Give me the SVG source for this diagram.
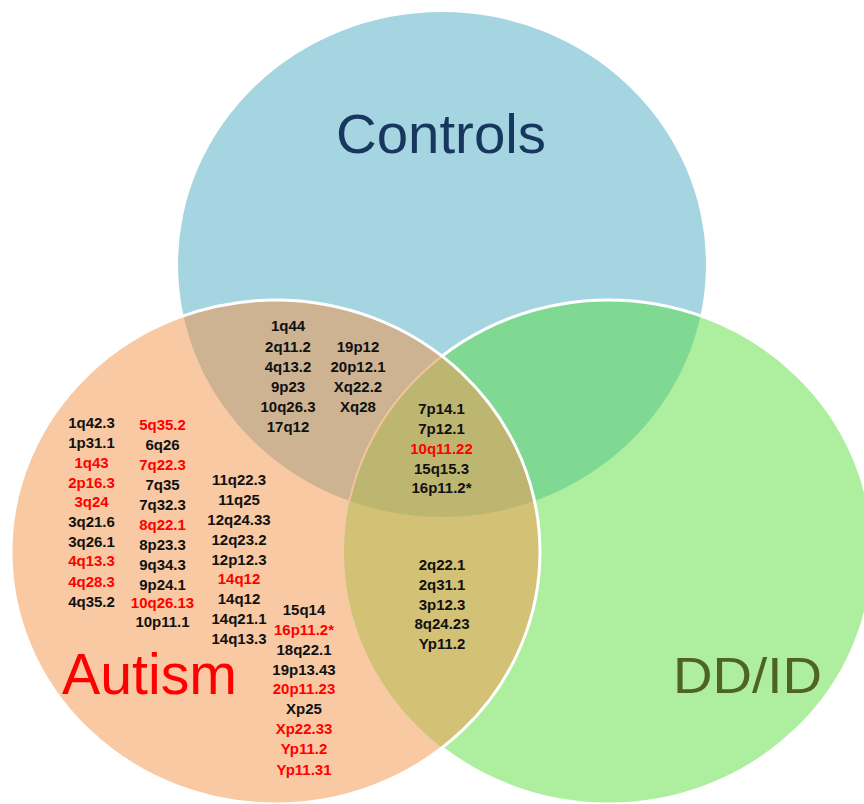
<svg xmlns="http://www.w3.org/2000/svg" width="864" height="804" viewBox="0 0 864 804">
<style>
.t{font-family:"Liberation Sans",Arial,sans-serif;font-weight:bold;font-size:15px;text-anchor:middle;fill:#111}
.r{fill:#ff0000}
.big{font-family:"Liberation Sans",Arial,sans-serif;text-anchor:start}
</style>
<defs>
<clipPath id="cC"><ellipse cx="442" cy="264.5" rx="264" ry="252.5"/></clipPath>
<clipPath id="cA"><ellipse cx="275.5" cy="552" rx="264.5" ry="252"/></clipPath>
<clipPath id="cD"><ellipse cx="608.5" cy="552" rx="264.5" ry="252"/></clipPath>
<mask id="mOutA"><rect width="864" height="804" fill="#fff"/><ellipse cx="275.5" cy="552" rx="264.5" ry="252" fill="#000"/></mask>
</defs>
<rect width="864" height="804" fill="#fff"/>
<g id="sets">
<g id="controls"><ellipse cx="442" cy="264.5" rx="264" ry="252.5" fill="#a6d5e2"/></g>
<g id="autism"><ellipse cx="275.5" cy="552" rx="264.5" ry="252" fill="#f8c9a3"/></g>
<g id="ddid"><ellipse cx="608.5" cy="552" rx="264.5" ry="252" fill="#aeee9f"/></g>
<g id="ca" clip-path="url(#cC)"><ellipse cx="275.5" cy="552" rx="264.5" ry="252" fill="#cdb392"/></g>
<g id="cd" clip-path="url(#cC)"><ellipse cx="608.5" cy="552" rx="264.5" ry="252" fill="#80d993"/></g>
<g id="ad" clip-path="url(#cA)"><ellipse cx="608.5" cy="552" rx="264.5" ry="252" fill="#d3c275"/></g>
<g id="cad" clip-path="url(#cC)"><g clip-path="url(#cA)"><ellipse cx="608.5" cy="552" rx="264.5" ry="252" fill="#bdb671"/></g></g>
<g id="outlines" fill="none">
<g clip-path="url(#cC)"><g clip-path="url(#cA)"><ellipse cx="608.5" cy="552" rx="264.5" ry="252" stroke="#f2c49c" stroke-width="2"/></g></g>
<ellipse cx="608.5" cy="552" rx="264.5" ry="252" stroke="#fff" stroke-width="3" mask="url(#mOutA)"/>
<ellipse cx="275.5" cy="552" rx="264.5" ry="252" stroke="#fff" stroke-width="3"/>
</g>
</g>
<g id="labels">
<text class="big" x="336" y="153" font-size="56" fill="#17375e" textLength="210" lengthAdjust="spacingAndGlyphs">Controls</text>
<text class="big" x="62" y="694" font-size="57" fill="#ff0000" textLength="175" lengthAdjust="spacingAndGlyphs">Autism</text>
<text class="big" x="673" y="693" font-size="50" fill="#4f6228" textLength="149" lengthAdjust="spacingAndGlyphs">DD/ID</text>
</g>
<g id="controls-autism">
<text class="t" x="288" y="331">1q44</text>
<text class="t" x="288" y="352">2q11.2</text>
<text class="t" x="288" y="372">4q13.2</text>
<text class="t" x="288" y="392">9p23</text>
<text class="t" x="288" y="412">10q26.3</text>
<text class="t" x="288" y="431.5">17q12</text>
<text class="t" x="358" y="352">19p12</text>
<text class="t" x="358" y="372">20p12.1</text>
<text class="t" x="358" y="392">Xq22.2</text>
<text class="t" x="358" y="412">Xq28</text>
</g>
<g id="all-three">
<text class="t" x="441.5" y="413.5">7p14.1</text>
<text class="t" x="441.5" y="434">7p12.1</text>
<text class="t r" x="441.5" y="454">10q11.22</text>
<text class="t" x="441.5" y="474">15q15.3</text>
<text class="t" x="441.5" y="493">16p11.2*</text>
</g>
<g id="autism-ddid">
<text class="t" x="442" y="570">2q22.1</text>
<text class="t" x="442" y="590">2q31.1</text>
<text class="t" x="442" y="609.5">3p12.3</text>
<text class="t" x="442" y="629">8q24.23</text>
<text class="t" x="442" y="649">Yp11.2</text>
</g>
<g id="autism-only">
<text class="t" x="91.5" y="428">1q42.3</text>
<text class="t" x="91.5" y="448">1p31.1</text>
<text class="t r" x="91.5" y="468">1q43</text>
<text class="t r" x="91.5" y="487.5">2p16.3</text>
<text class="t r" x="91.5" y="506.5">3q24</text>
<text class="t" x="91.5" y="526.5">3q21.6</text>
<text class="t" x="91.5" y="546.5">3q26.1</text>
<text class="t r" x="91.5" y="566">4q13.3</text>
<text class="t r" x="91.5" y="586.5">4q28.3</text>
<text class="t" x="91.5" y="606.5">4q35.2</text>
<text class="t r" x="162.5" y="430">5q35.2</text>
<text class="t" x="162.5" y="450">6q26</text>
<text class="t r" x="162.5" y="470">7q22.3</text>
<text class="t" x="162.5" y="490">7q35</text>
<text class="t" x="162.5" y="510">7q32.3</text>
<text class="t r" x="162.5" y="530">8q22.1</text>
<text class="t" x="162.5" y="550">8p23.3</text>
<text class="t" x="162.5" y="569.5">9q34.3</text>
<text class="t" x="162.5" y="589.5">9p24.1</text>
<text class="t r" x="162.5" y="608">10q26.13</text>
<text class="t" x="162.5" y="627">10p11.1</text>
<text class="t" x="239" y="485">11q22.3</text>
<text class="t" x="239" y="505">11q25</text>
<text class="t" x="239" y="525">12q24.33</text>
<text class="t" x="239" y="545">12q23.2</text>
<text class="t" x="239" y="564.5">12p12.3</text>
<text class="t r" x="239" y="584">14q12</text>
<text class="t" x="239" y="604">14q12</text>
<text class="t" x="239" y="624">14q21.1</text>
<text class="t" x="239" y="644">14q13.3</text>
<text class="t" x="304" y="615">15q14</text>
<text class="t r" x="304" y="635">16p11.2*</text>
<text class="t" x="304" y="655">18q22.1</text>
<text class="t" x="304" y="675">19p13.43</text>
<text class="t r" x="304" y="694">20p11.23</text>
<text class="t" x="304" y="714">Xp25</text>
<text class="t r" x="304" y="734">Xp22.33</text>
<text class="t r" x="304" y="754">Yp11.2</text>
<text class="t r" x="304" y="775">Yp11.31</text>
</g>
</svg>
